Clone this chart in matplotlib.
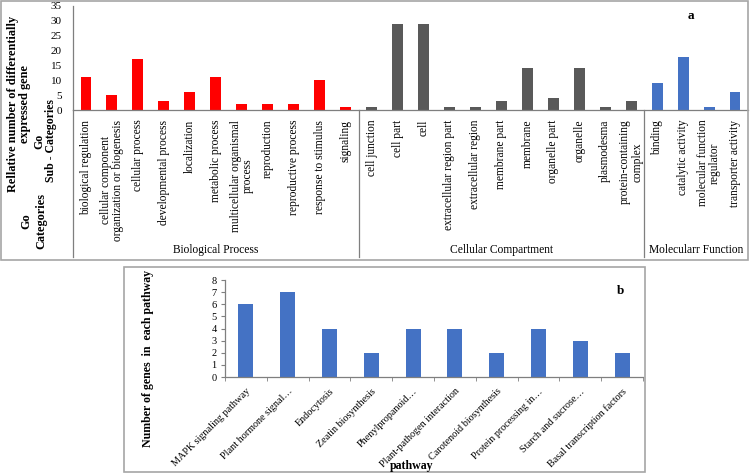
import matplotlib
matplotlib.use("Agg")
import matplotlib.pyplot as plt
from matplotlib.patches import Rectangle

plt.rcParams['font.family'] = ['Liberation Serif', 'DejaVu Serif']

# panel a: GO sub-categories
bp_terms = ["biological regulation", "cellular component\norganization or biogenesis",
            "cellular process", "developmental process", "localization",
            "metabolic process", "multicellular organismal\nprocess", "reproduction",
            "reproductive process", "response to stimulus", "signaling"]
bp_counts = [11, 5, 17, 3, 6, 11, 2, 2, 2, 10, 1]

cc_terms = ["cell junction", "cell part", "cell", "extracellular region part",
            "extracellular region", "membrane part", "membrane", "organelle part",
            "organelle", "plasmodesma", "protein-containing\ncomplex"]
cc_counts = [1, 29, 29, 1, 1, 3, 14, 4, 14, 1, 3]

mf_terms = ["binding", "catalytic activity", "molecular function\nregulator",
            "transporter activity"]
mf_counts = [9, 18, 1, 6]

group_names = ["Biological Process", "Cellular Compartment", "Molecularr Function"]

# panel b: pathways
pathways = ["MAPK signaling pathway", "Plant hormone signal…", "Endocytosis",
            "Zeatin biosynthesis", "Phenylpropanoid…", "Plant-pathogen interaction",
            "Carotenoid biosynthesis", "Protein processing in…", "Starch and sucrose…",
            "Basal transcription factors"]
pathway_counts = [6, 7, 4, 2, 4, 4, 2, 4, 3, 2]

W, H = 750, 473
fig = plt.figure(figsize=(7.5, 4.73), dpi=100)

def fx(px):
    return px / W

def fy(py):
    return 1 - py / H

frame_col = '#A6A6A6'
fig.add_artist(Rectangle((fx(1), fy(260)), fx(747), 259 / H, transform=fig.transFigure,
                         fill=False, edgecolor=frame_col, lw=1.2))
fig.add_artist(Rectangle((fx(124), fy(472)), fx(521), 205 / H, transform=fig.transFigure,
                         fill=False, edgecolor=frame_col, lw=1.2))

# ---------- panel a ----------
axa = fig.add_axes([fx(73), fy(110), fx(748 - 73), (110 - 6) / H])
groups = [(bp_terms, bp_counts, '#FF0000'),
          (cc_terms, cc_counts, '#595959'),
          (mf_terms, mf_counts, '#4472C4')]
labels = []
pos = 0
bounds = []
for terms, counts, col in groups:
    xs = list(range(pos, pos + len(terms)))
    axa.bar(xs, counts, width=0.42, color=col)
    labels += terms
    bounds.append((pos, pos + len(terms) - 1))
    pos += len(terms)

axa.set_xlim(-0.5, pos - 0.5)
axa.set_ylim(0, 35)
axa.set_yticks(range(0, 36, 5))
axa.set_xticks(range(pos))
axa.set_xticklabels(labels, rotation=90, fontsize=8.3, linespacing=1.05)
axa.tick_params(axis='x', length=0, pad=7)
axa.tick_params(axis='y', length=0, labelsize=8, pad=8)
for s in ['top', 'right']:
    axa.spines[s].set_visible(False)
for s in ['left', 'bottom']:
    axa.spines[s].set_color('#7F7F7F')
    axa.spines[s].set_linewidth(0.9)

trans = axa.get_xaxis_transform()
ybot = (110 - 257) / 104
for b in [-0.5] + [hi + 0.5 for lo, hi in bounds[:-1]]:
    axa.plot([b, b], [0, ybot], transform=trans, color='#7F7F7F', lw=0.9, clip_on=False)
for (lo, hi), name in zip(bounds, group_names):
    axa.text((lo + hi) / 2, (110 - 250) / 104, name, transform=trans, ha='center',
             va='center', fontsize=8.3)

axa.text(23.3, 31.5, "a", fontsize=9.5, fontweight='bold', ha='center', va='center')

fig.text(fx(19), fy(104), "Rellative number of differentially\nexpressed gene", rotation=90,
         ha='center', va='center', fontsize=8.8, fontweight='bold', multialignment='center',
         linespacing=1.05)
fig.text(fx(45), fy(141), "Go\nSub - Categories", rotation=90, ha='center', va='center',
         fontsize=8.5, fontweight='bold', multialignment='center', linespacing=0.95)
fig.text(fx(34), fy(221), "Go\nCategories", rotation=90, ha='center', va='center',
         fontsize=8.8, fontweight='bold', multialignment='center', linespacing=1.3)

# ---------- panel b ----------
axb = fig.add_axes([fx(225), fy(377), fx(643 - 225), (377 - 280) / H])
xb = range(len(pathways))
axb.bar(xb, pathway_counts, width=0.36, color='#4472C4')
axb.set_xlim(-0.5, len(pathways) - 0.5)
axb.set_ylim(0, 8)
axb.set_yticks(range(0, 9))
axb.set_xticks(list(xb))
axb.set_xticklabels(pathways, rotation=45, ha='right', rotation_mode='anchor', fontsize=7.3)
axb.set_xticks([i + 0.5 for i in range(-1, len(pathways))], minor=True)
axb.tick_params(axis='x', which='major', length=0, pad=7)
axb.tick_params(axis='x', which='minor', length=3, color='#7F7F7F')
axb.tick_params(axis='y', length=3, color='#7F7F7F', labelsize=7.5, pad=3)
for s in ['top', 'right']:
    axb.spines[s].set_visible(False)
for s in ['left', 'bottom']:
    axb.spines[s].set_color('#7F7F7F')
    axb.spines[s].set_linewidth(0.9)

axb.text(8.95, 7.1, "b", fontsize=9.5, fontweight='bold', ha='center', va='center')
fig.text(fx(148), fy(358), "Number of genes  in  each pathway", rotation=90, ha='center',
         va='center', fontsize=8.6, fontweight='bold')
fig.text(fx(412), fy(466), "pathway", ha='center', va='center', fontsize=8.6,
         fontweight='bold')

fig.savefig("out.png", dpi=100)
